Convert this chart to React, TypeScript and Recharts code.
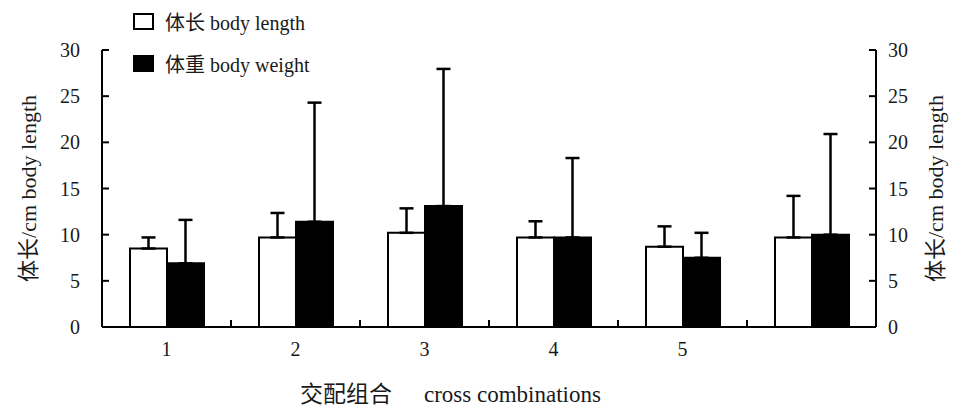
import React from 'react';
import { BarChart, Bar, XAxis, YAxis, ErrorBar, Legend } from 'recharts';

const categories = ['1', '2', '3', '4', '5', ''];
const bodyLength = [8.5, 9.7, 10.2, 9.7, 8.7, 9.7];
const bodyLengthSD = [1.2, 2.65, 2.65, 1.75, 2.2, 4.5];
const bodyWeight = [6.9, 11.4, 13.1, 9.7, 7.5, 10.0];
const bodyWeightSD = [4.7, 12.9, 14.85, 8.6, 2.7, 10.9];
const yTicks = [0, 5, 10, 15, 20, 25, 30];
const seriesNames = ['体长 body length', '体重 body weight'];
const yLabel = '体长/cm body length';
const xLabelZh = '交配组合';
const xLabelEn = 'cross combinations';

const FONT = "'Liberation Serif', 'Times New Roman', 'Noto Sans CJK SC', serif";
const INK = '#1a1a1a';

const data = categories.map((c, i) => ({
  cat: c,
  length: bodyLength[i],
  lengthErr: [0, bodyLengthSD[i]],
  weight: bodyWeight[i],
  weightErr: [0, bodyWeightSD[i]],
}));

const renderLegend = (props: any) => {
  const payload = [...(props.payload || [])].sort(
    (a: any, b: any) => seriesNames.indexOf(a.value) - seriesNames.indexOf(b.value)
  );
  return (
    <div style={{ fontFamily: FONT, fontSize: 20, color: INK }}>
      {payload.map((e: any, i: number) => (
        <div key={i} style={{ display: 'flex', alignItems: 'center', height: 42 }}>
          <span
            style={{
              display: 'inline-block',
              width: 21,
              height: 17,
              boxSizing: 'border-box',
              border: '2px solid #000',
              background: e.color,
              marginRight: 11,
            }}
          />
          <span>{e.value}</span>
        </div>
      ))}
    </div>
  );
};

const YTick = (props: any) => {
  const { x, y, payload, textAnchor } = props;
  return (
    <text x={x} y={y} textAnchor={textAnchor} dominantBaseline="central"
      fontFamily={FONT} fontSize={20} fill={INK}>{payload.value}</text>
  );
};

const XTick = (props: any) => {
  const { x, y, payload, index } = props;
  const half = payload && typeof payload.offset === 'number' ? payload.offset : 0;
  const showBoundary = half > 0 && index < categories.length - 1;
  return (
    <g>
      {showBoundary ? (
        <line x1={x + half} x2={x + half} y1={y} y2={y - 7} stroke="#000" strokeWidth={2} />
      ) : null}
      <text x={x} y={y + 15} dy="0.71em" textAnchor="middle"
        fontFamily={FONT} fontSize={20} fill={INK}>{payload.value}</text>
    </g>
  );
};

const LeftLabel = (props: any) => {
  const { x, y, height } = props.viewBox;
  const cx = x + 28;
  const cy = y + height / 2;
  return (
    <text x={cx} y={cy} transform={`rotate(-90 ${cx} ${cy})`} textAnchor="middle" dominantBaseline="central"
      fontFamily={FONT} fontSize={22} fill={INK}>{yLabel}</text>
  );
};

const RightLabel = (props: any) => {
  const { x, y, height } = props.viewBox;
  const cx = x + 59;
  const cy = y + height / 2;
  return (
    <text x={cx} y={cy} transform={`rotate(-90 ${cx} ${cy})`} textAnchor="middle" dominantBaseline="central"
      fontFamily={FONT} fontSize={22} fill={INK}>{yLabel}</text>
  );
};

const BottomLabel = (props: any) => {
  const { x, y } = props.viewBox;
  return (
    <text x={x + 198} y={y + 75} fontFamily={FONT} fontSize={23} fill={INK}>
      <tspan>{xLabelZh}</tspan>
      <tspan dx={32}>{xLabelEn}</tspan>
    </text>
  );
};

export default function App() {
  return (
    <div style={{ position: 'absolute', left: 0, top: 0, background: '#fff' }}>
      <BarChart
        width={954}
        height={409}
        data={data}
        margin={{ top: 50, right: 0, bottom: 0, left: 0 }}
        barGap={0}
        style={{ fontFamily: FONT }}
      >
        <XAxis
          dataKey="cat"
          height={82}
          axisLine={{ stroke: '#000', strokeWidth: 2 }}
          tickLine={false}
          tickSize={0}
          tickMargin={0}
          interval={0}
          tick={<XTick />}
          label={<BottomLabel />}
        />
        <YAxis
          yAxisId={0}
          width={102}
          domain={[0, 30]}
          ticks={yTicks}
          interval={0}
          axisLine={{ stroke: '#000', strokeWidth: 2 }}
          tickLine={{ stroke: '#000', strokeWidth: 2 }}
          tickSize={-7}
          tickMargin={29}
          tick={<YTick />}
          label={<LeftLabel />}
        />
        <YAxis
          yAxisId="right"
          orientation="right"
          width={78}
          domain={[0, 30]}
          ticks={yTicks}
          interval={0}
          allowDataOverflow
          axisLine={{ stroke: '#000', strokeWidth: 2 }}
          tickLine={{ stroke: '#000', strokeWidth: 2 }}
          tickSize={-7}
          tickMargin={19}
          tick={<YTick />}
          label={<RightLabel />}
        />
        <Legend
          layout="vertical"
          align="center"
          verticalAlign="middle"
          content={renderLegend}
          wrapperStyle={{ left: 133, top: 0, width: 'auto' }}
        />
        <Bar
          yAxisId={0}
          dataKey="length"
          name={seriesNames[0]}
          fill="#ffffff"
          stroke="#000"
          strokeWidth={2}
          barSize={37}
          isAnimationActive={false}
        >
          <ErrorBar dataKey="lengthErr" direction="y" width={7} stroke="#000" strokeWidth={2.5} />
        </Bar>
        <Bar
          yAxisId={0}
          dataKey="weight"
          name={seriesNames[1]}
          fill="#000000"
          stroke="#000"
          strokeWidth={2}
          barSize={37}
          isAnimationActive={false}
        >
          <ErrorBar dataKey="weightErr" direction="y" width={7} stroke="#000" strokeWidth={2.5} />
        </Bar>
      </BarChart>
    </div>
  );
}
